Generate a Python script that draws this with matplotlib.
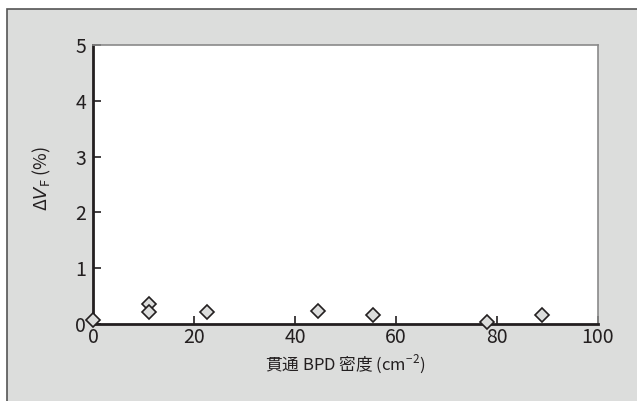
import matplotlib
matplotlib.use("Agg")
import matplotlib.pyplot as plt
from matplotlib.patches import Rectangle

plt.rcParams["font.family"] = ["Noto Sans CJK JP", "DejaVu Sans"]
plt.rcParams["mathtext.fontset"] = "custom"
plt.rcParams["mathtext.rm"] = "Noto Sans CJK JP"
plt.rcParams["mathtext.it"] = "DejaVu Sans:italic"

# data
bpd_density = [0, 11, 11, 22.5, 44.5, 55.5, 78, 89]
delta_vf = [0.08, 0.35, 0.21, 0.22, 0.23, 0.17, 0.03, 0.17]
x_ticks = [0, 20, 40, 60, 80, 100]
y_ticks = [0, 1, 2, 3, 4, 5]

W, H = 637, 401
fig = plt.figure(figsize=(W / 100, H / 100), dpi=100, facecolor="white")
fig.patches.append(Rectangle((7 / W, -0.05), 1.1, (H - 9) / H + 0.05,
                             transform=fig.transFigure, facecolor="#dcdddc",
                             edgecolor="#555555", linewidth=1.2, zorder=-5))

ax = fig.add_axes([93 / W, 1 - 324 / H, (598 - 93) / W, (324 - 45) / H])
ax.set_zorder(2)
ax.set_facecolor("white")
ax.plot(bpd_density, delta_vf, linestyle="none", marker="D", markersize=7,
        markerfacecolor="#dcdddc", markeredgecolor="#231f20",
        markeredgewidth=1.2, clip_on=False, zorder=5)

ax.set_xlim(0, 100)
ax.set_ylim(0, 5)
ax.set_xticks(x_ticks)
ax.set_yticks(y_ticks)
ax.tick_params(direction="in", length=6, width=1.2, colors="#231f20",
               labelsize=14)
ax.tick_params(axis="x", pad=2)
ax.tick_params(axis="y", pad=5)
for side in ("left", "bottom"):
    ax.spines[side].set_linewidth(2)
    ax.spines[side].set_color("#231f20")
for side in ("top", "right"):
    ax.spines[side].set_linewidth(1.2)
    ax.spines[side].set_color("#8a8a8a")

ax.set_xlabel("貫通 BPD 密度 (cm$^{-2}$)", fontsize=12, color="#231f20",
              labelpad=3)
ax.set_ylabel(r"$\mathit{\Delta V}_{\mathrm{F}}$ (%)", fontsize=13,
              color="#231f20")
ax.yaxis.set_label_coords(-40 / 505, 0.52)

fig.savefig("out.png", dpi=100, facecolor=fig.get_facecolor())
